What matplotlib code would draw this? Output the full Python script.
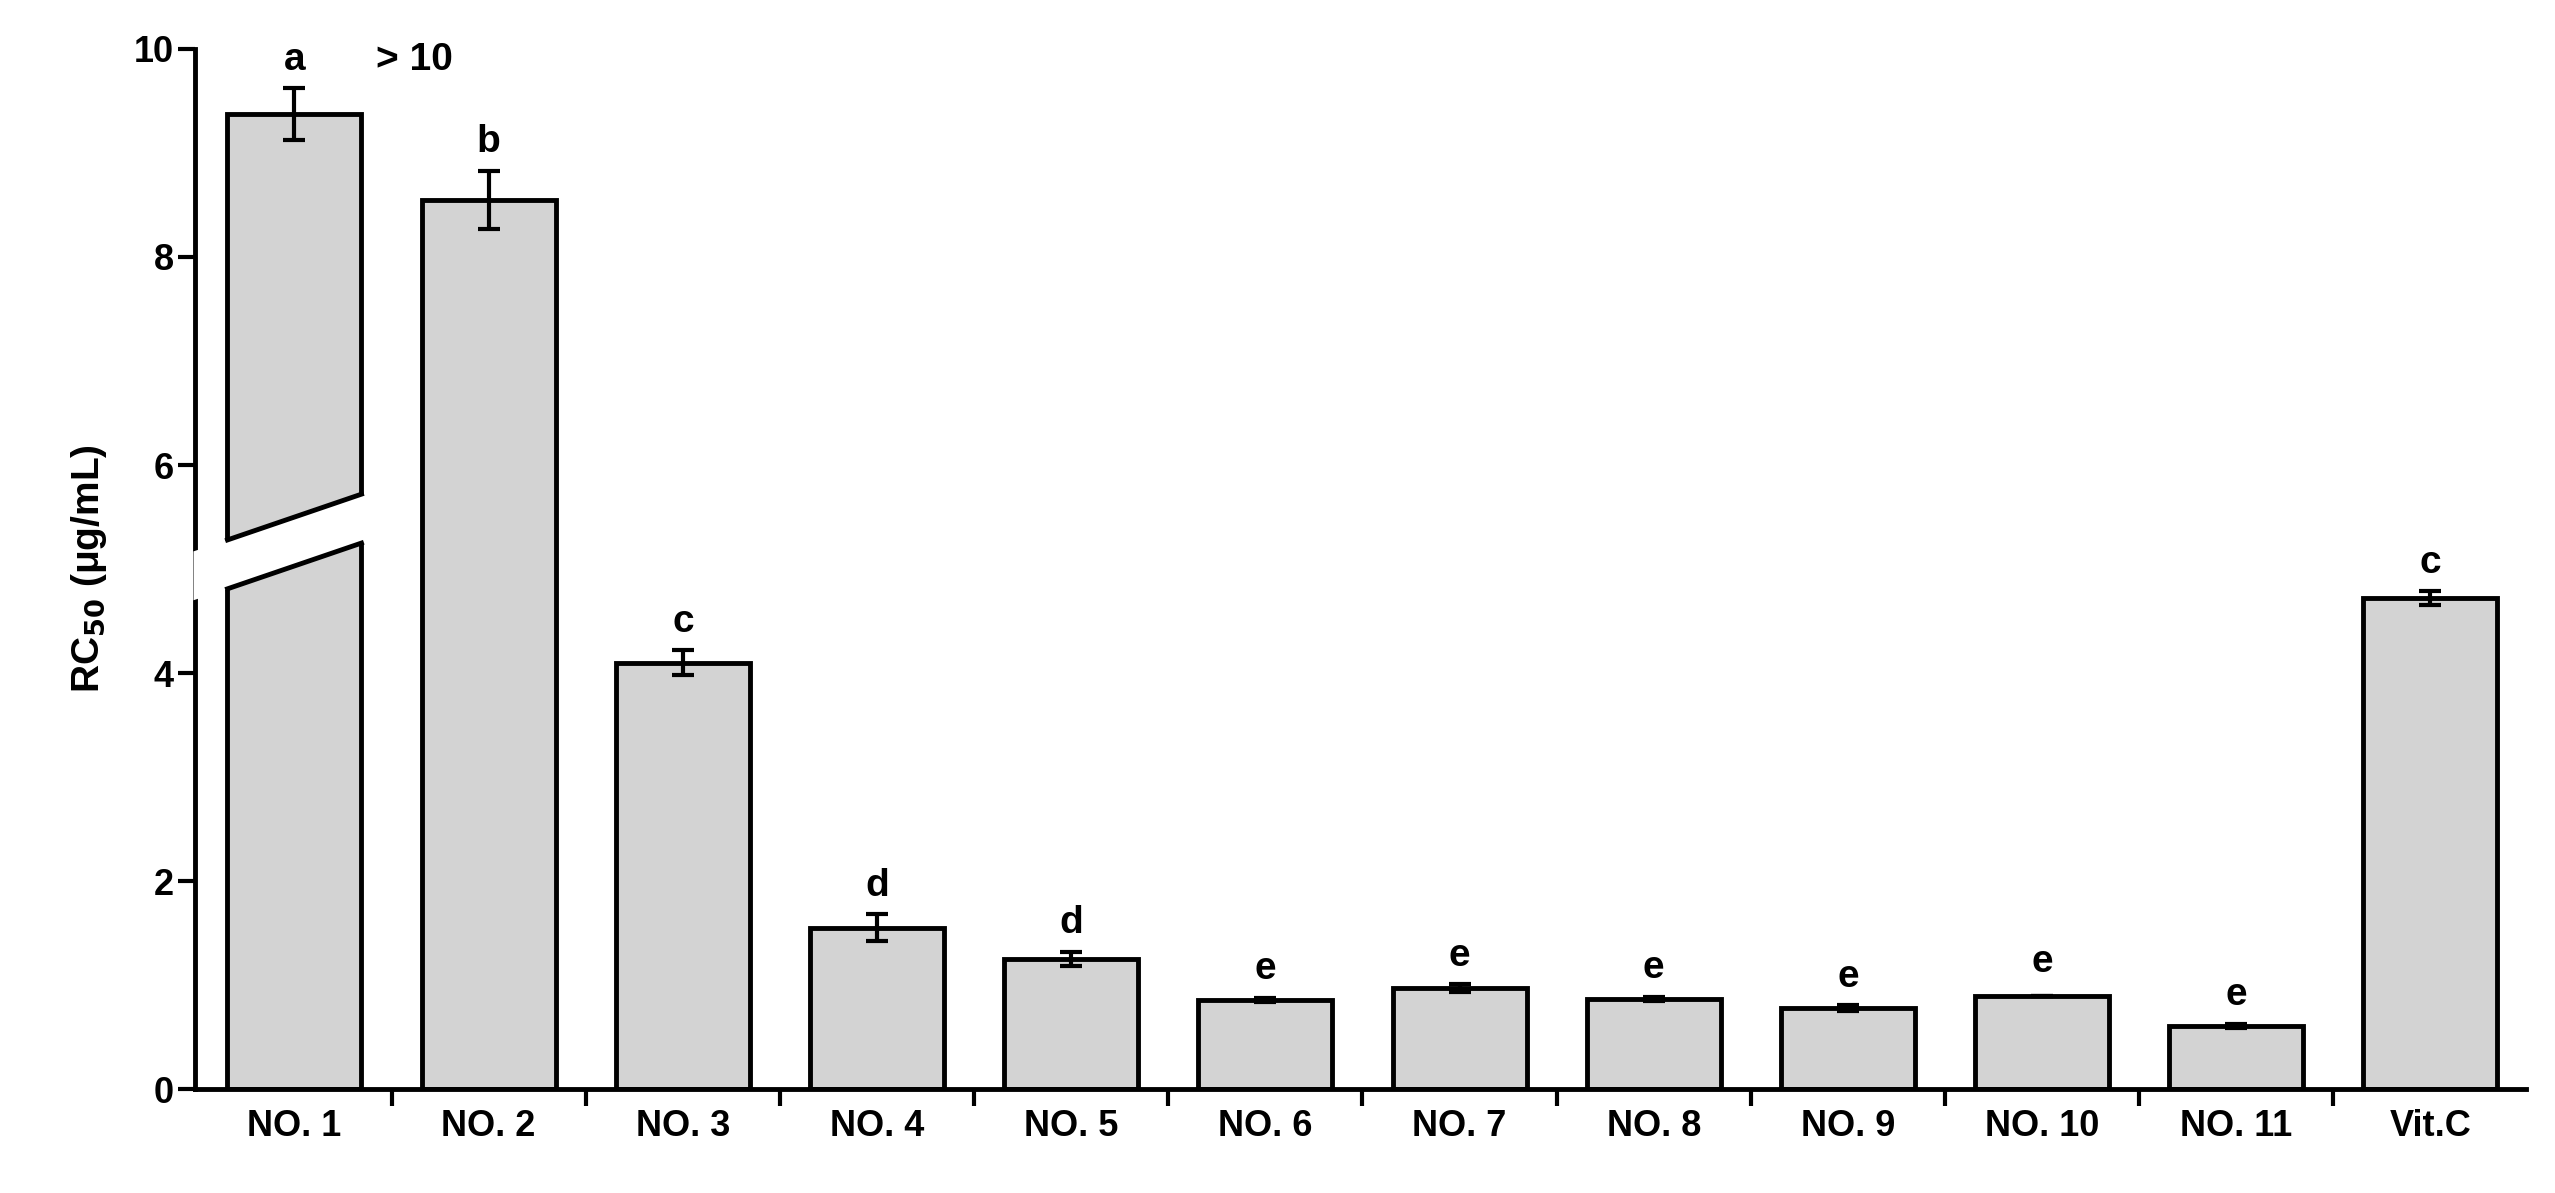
import matplotlib.pyplot as plt
import numpy as np

plt.rcParams['font.family'] = ['Liberation Sans', 'DejaVu Sans']
plt.rcParams['font.weight'] = 'bold'

# data
labels = ["NO. 1", "NO. 2", "NO. 3", "NO. 4", "NO. 5", "NO. 6", "NO. 7",
          "NO. 8", "NO. 9", "NO. 10", "NO. 11", "Vit.C"]
values = [9.37, 8.55, 4.10, 1.55, 1.25, 0.86, 0.97, 0.87, 0.78, 0.90, 0.61, 4.72]
errors = [0.25, 0.28, 0.12, 0.13, 0.07, 0.02, 0.04, 0.02, 0.03, 0.0, 0.02, 0.07]
letters = ["a", "b", "c", "d", "d", "e", "e", "e", "e", "e", "e", "c"]

fig = plt.figure(figsize=(25.55, 11.93), dpi=100)
ax = fig.add_axes([0.0765, 0.087, 0.912, 0.872])

x = np.arange(len(labels))
w = 0.69
ax.bar(x, values, width=w, color="#d3d3d3", edgecolor="black", linewidth=3.5, zorder=2)
ax.errorbar(x, values, yerr=errors, fmt="none", ecolor="black", elinewidth=3,
            capsize=8, capthick=3, zorder=3)

for xi, v, e, l in zip(x, values, errors, letters):
    if l == "e" and e == 0 and labels[xi] == "NO. 10":
        ax.text(xi, v + 0.15, l, ha="center", va="bottom", fontsize=28, fontweight="bold")
    else:
        ax.text(xi, v + e + 0.1, l, ha="center", va="bottom", fontsize=28, fontweight="bold")
ax.text(0.42, 9.72, "> 10", ha="left", va="bottom", fontsize=28, fontweight="bold")

# axis break on first bar
h = w / 2
poly = plt.Polygon([(-0.52, 4.70), (h + 0.02, 5.25), (h + 0.02, 5.72), (-0.52, 5.17)],
                   closed=True, facecolor="white", edgecolor="none", zorder=4, clip_on=False)
ax.add_patch(poly)
ax.plot([-h, h], [4.81, 5.25], color="black", lw=3.5, zorder=5)
ax.plot([-h, h], [5.28, 5.72], color="black", lw=3.5, zorder=5)

ax.set_xlim(-0.51, 11.49)
ax.set_ylim(0, 10)
ax.set_yticks(np.arange(0, 11, 2))
ax.set_xticks(x)
ax.set_xticklabels(labels)
ax.set_xticks(np.arange(0.5, 11.5, 1), minor=True)
ax.tick_params(axis="x", which="major", length=0, labelsize=26, pad=14)
ax.tick_params(axis="x", which="minor", length=12, width=3, direction="out")
ax.tick_params(axis="y", length=12, width=3, direction="out", labelsize=26)
for s in ["top", "right"]:
    ax.spines[s].set_visible(False)
for s in ["left", "bottom"]:
    ax.spines[s].set_linewidth(3.5)
ax.set_ylabel(r"RC$_{\mathbf{50}}$ (μg/mL)", fontsize=28, fontweight="bold", labelpad=18)

fig.savefig("out.png", dpi=100)
